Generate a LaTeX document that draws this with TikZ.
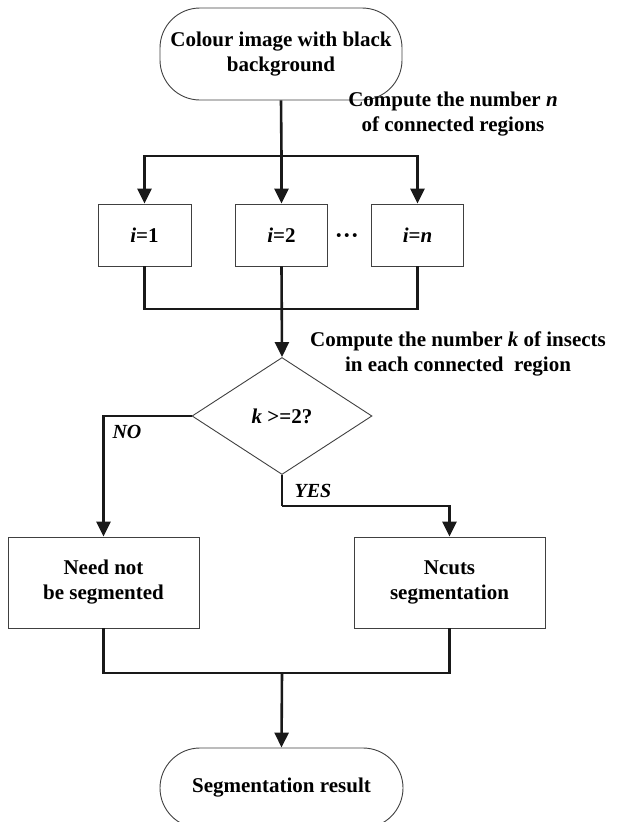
\documentclass[tikz,border=0pt]{standalone}
\usepackage{fontspec}
\setmainfont{Liberation Serif}
\usetikzlibrary{shapes.geometric,arrows.meta}
\begin{document}
\begin{tikzpicture}[x=1pt,y=-1pt,
  txt/.style={font=\fontsize{21}{25}\selectfont\bfseries, align=center},
  term/.style={txt, draw=black!75, line width=0.9pt, rounded corners=40pt, inner sep=0pt},
  procbox/.style={txt, draw=black!75, line width=0.9pt, inner sep=0pt},
  decis/.style={txt, diamond, draw=black!75, line width=0.9pt, inner sep=0pt, minimum width=180pt, minimum height=117pt},
  conn/.style={line width=2.6pt, draw=black!90},
  arr/.style={conn, -{Triangle[width=14pt,length=15pt]}},
  lbl/.style={txt, inner sep=0pt}
]
\useasboundingbox (0,0) rectangle (617,822);
\clip (0,0) rectangle (617,822);

% nodes
\node[term, minimum width=242pt, minimum height=92pt] (top) at (281,54)
  {Colour image with black\\background};
\node[procbox, minimum width=93pt, minimum height=62pt] (b1) at (144.5,235) {\textit{i}=1};
\node[procbox, minimum width=92pt, minimum height=62pt] (b2) at (281.5,235) {\textit{i}=2};
\node[procbox, minimum width=92pt, minimum height=62pt] (b3) at (417.5,235) {\textit{i}=\textit{n}};
\node[lbl, font=\fontsize{24}{25}\selectfont\bfseries] (dots) at (347,239) {···};
\node[decis] (dec) at (282,416) {\textit{k} >=2?};
\node[procbox, minimum width=191pt, minimum height=91pt] (no) at (103.5,582.5) {Need not\\be segmented};
\node[procbox, minimum width=191pt, minimum height=91pt] (ncut) at (449.5,582.5) {Ncuts\\segmentation};
\node[term, minimum width=243pt, minimum height=80pt] (res) at (281.5,788) {Segmentation result};

% labels
\node[lbl] (lab1) at (453,114) {Compute the number \textit{n}\\of connected regions};
\node[lbl] (lab2) at (458,354) {Compute the number \textit{k} of insects\\in each connected\ \ region};
\node[lbl, font=\fontsize{20}{23}\selectfont\bfseries\itshape] (nolab) at (127,432) {NO};
\node[lbl, font=\fontsize{20}{23}\selectfont\bfseries\itshape] (yeslab) at (313,491) {YES};

% coordinates
\coordinate (split) at (281.5,156);
\coordinate (join) at (281.5,309);
\coordinate (ybend) at (282,506);
\coordinate (join2) at (282,673);

% connectors
\draw[conn] (top.south) -- (split);
\draw[arr] (split) -| (b1.north);
\draw[arr] (split) -- (b2.north);
\draw[arr] (split) -| (b3.north);
\draw[conn] (b1.south) |- (join);
\draw[conn] (b3.south) |- (join);
\draw[arr] (b2.south) -- (dec.north);
\draw[arr] (dec.west) -| (no.north);
\draw[conn] (dec.south) -- (ybend);
\draw[arr] (ybend) -| (ncut.north);
\draw[conn] (no.south) |- (join2);
\draw[conn] (ncut.south) |- (join2);
\draw[arr] (join2) -- (res.north);
\end{tikzpicture}
\end{document}
